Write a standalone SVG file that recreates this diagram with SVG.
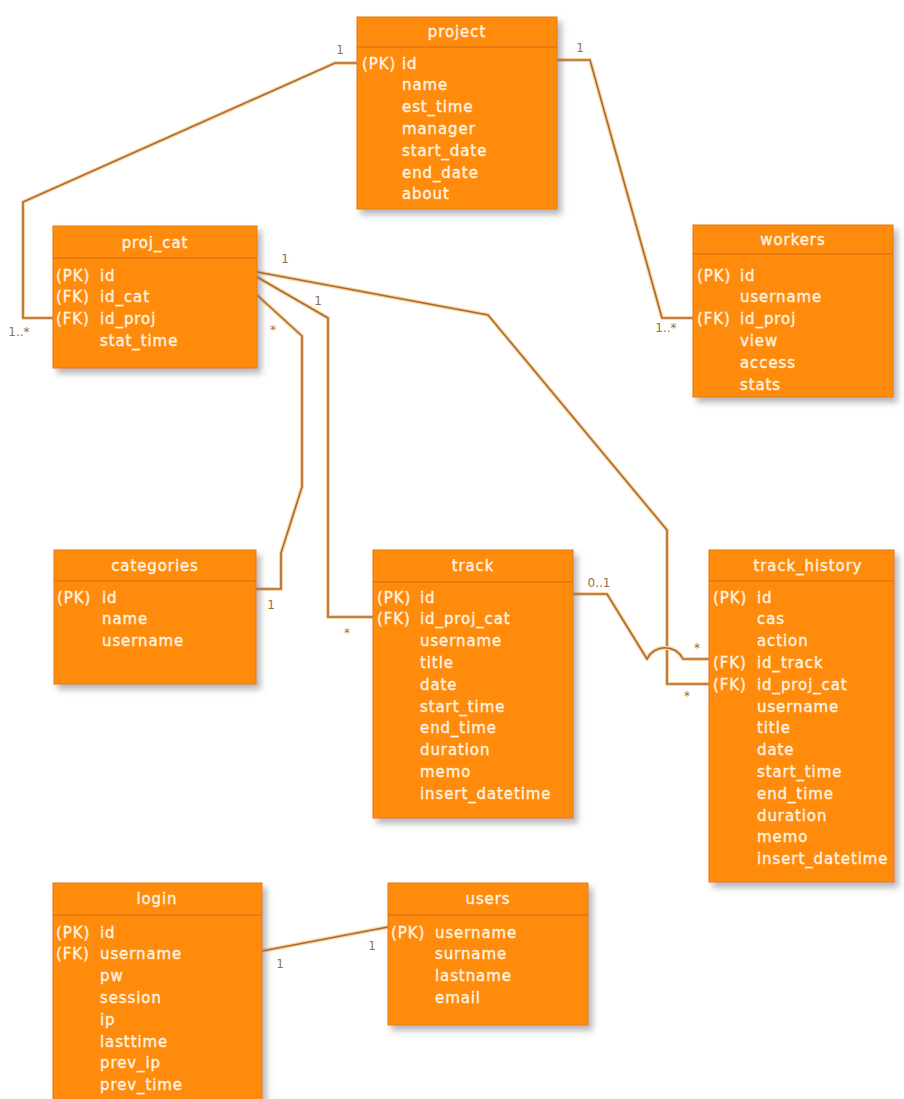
<svg xmlns="http://www.w3.org/2000/svg" width="904" height="1099" viewBox="0 0 904 1099">
<defs>
<filter id="sh" x="-10%" y="-10%" width="125%" height="125%">
<feDropShadow dx="4" dy="5" stdDeviation="3" flood-color="#7a7a7a" flood-opacity="0.55"/>
</filter>
</defs>
<style>
.box{fill:#FF8B10;stroke:#E57A0C;stroke-width:1;filter:url(#sh)}
.sep{stroke:#D26F10;stroke-width:1.2}
.t{font-family:"DejaVu Sans",Verdana,sans-serif;font-size:15px;letter-spacing:0.9px;fill:#FFF3E2;stroke:#FFF3E2;stroke-width:0.35}
.ttl{text-anchor:middle}
.halo{fill:none;stroke:#FAD3A0;stroke-width:4;stroke-linejoin:round}
.ln{fill:none;stroke:#A86A32;stroke-width:1.6;stroke-linejoin:miter}
.lb{font-family:"DejaVu Sans",Verdana,sans-serif;font-size:12px;fill:#957045;text-anchor:middle}
</style>
<rect width="904" height="1099" fill="#ffffff"/>

<g id="connectors">
<g id="c-project-projcat">
<path class="halo" d="M357,63 L335,63 L23,202 L23,318 L53,318"/>
<path class="ln" d="M357,63 L335,63 L23,202 L23,318 L53,318"/>
<text class="lb" x="340" y="54">1</text>
<text class="lb" x="19" y="336">1..*</text>
</g>
<g id="c-project-workers">
<path class="halo" d="M557,60 L590,60 L662,318 L693,318"/>
<path class="ln" d="M557,60 L590,60 L662,318 L693,318"/>
<text class="lb" x="580" y="52">1</text>
<text class="lb" x="666" y="332">1..*</text>
</g>
<g id="c-projcat-trackhistory">
<path class="halo" d="M257,272 L488,315 L667,530 L667,684 L709,684"/>
<path class="ln" d="M257,272 L488,315 L667,530 L667,684 L709,684"/>
<text class="lb" x="285" y="263">1</text>
<text class="lb" x="687" y="700">*</text>
</g>
<g id="c-projcat-track">
<path class="halo" d="M257,277 L328,318 L328,617 L373,617"/>
<path class="ln" d="M257,277 L328,318 L328,617 L373,617"/>
<text class="lb" x="318" y="305">1</text>
<text class="lb" x="347" y="637">*</text>
</g>
<g id="c-projcat-categories">
<path class="halo" d="M257,295 L302,336 L302,487 L281,553 L281,589 L256,589"/>
<path class="ln" d="M257,295 L302,336 L302,487 L281,553 L281,589 L256,589"/>
<text class="lb" x="273" y="334">*</text>
<text class="lb" x="271" y="609">1</text>
</g>
<g id="c-track-trackhistory">
<path class="halo" d="M573,594 L607,594 L647,659 A20,20 0 0 1 683,659 L709,659"/>
<path class="ln" d="M573,594 L607,594 L647,659 A20,20 0 0 1 683,659 L709,659"/>
<text class="lb" x="599" y="587">0..1</text>
<text class="lb" x="697" y="652">*</text>
</g>
<g id="c-login-users">
<path class="halo" d="M262,951 L388,927"/>
<path class="ln" d="M262,951 L388,927"/>
<text class="lb" x="280" y="968">1</text>
<text class="lb" x="372" y="950">1</text>
</g>
</g>

<g id="project">
<rect class="box" x="357" y="17" width="200" height="192"/>
<line class="sep" x1="357" y1="47" x2="557" y2="47"/>
<text class="t ttl" x="457" y="37">project</text>
<text class="t" x="362" y="68.5">(PK)</text><text class="t" x="402" y="68.5">id</text>
<text class="t" x="402" y="90.3">name</text>
<text class="t" x="402" y="112.1">est_time</text>
<text class="t" x="402" y="133.9">manager</text>
<text class="t" x="402" y="155.7">start_date</text>
<text class="t" x="402" y="177.5">end_date</text>
<text class="t" x="402" y="199.3">about</text>
</g>

<g id="proj_cat">
<rect class="box" x="53" y="226" width="204" height="142"/>
<line class="sep" x1="53" y1="258" x2="257" y2="258"/>
<text class="t ttl" x="155" y="248">proj_cat</text>
<text class="t" x="56" y="280.5">(PK)</text><text class="t" x="100" y="280.5">id</text>
<text class="t" x="56" y="302.3">(FK)</text><text class="t" x="100" y="302.3">id_cat</text>
<text class="t" x="56" y="324.1">(FK)</text><text class="t" x="100" y="324.1">id_proj</text>
<text class="t" x="100" y="345.9">stat_time</text>
</g>

<g id="workers">
<rect class="box" x="693" y="225" width="200" height="172"/>
<line class="sep" x1="693" y1="254" x2="893" y2="254"/>
<text class="t ttl" x="793" y="245">workers</text>
<text class="t" x="697" y="280.5">(PK)</text><text class="t" x="740" y="280.5">id</text>
<text class="t" x="740" y="302.3">username</text>
<text class="t" x="697" y="324.1">(FK)</text><text class="t" x="740" y="324.1">id_proj</text>
<text class="t" x="740" y="345.9">view</text>
<text class="t" x="740" y="367.7">access</text>
<text class="t" x="740" y="389.5">stats</text>
</g>

<g id="categories">
<rect class="box" x="54" y="550" width="202" height="134"/>
<line class="sep" x1="54" y1="581" x2="256" y2="581"/>
<text class="t ttl" x="155" y="571">categories</text>
<text class="t" x="57" y="602.5">(PK)</text><text class="t" x="102" y="602.5">id</text>
<text class="t" x="102" y="624.3">name</text>
<text class="t" x="102" y="646.1">username</text>
</g>

<g id="track">
<rect class="box" x="373" y="550" width="200" height="268"/>
<line class="sep" x1="373" y1="582" x2="573" y2="582"/>
<text class="t ttl" x="473" y="571">track</text>
<text class="t" x="377" y="602.5">(PK)</text><text class="t" x="420" y="602.5">id</text>
<text class="t" x="377" y="624.3">(FK)</text><text class="t" x="420" y="624.3">id_proj_cat</text>
<text class="t" x="420" y="646.1">username</text>
<text class="t" x="420" y="667.9">title</text>
<text class="t" x="420" y="689.7">date</text>
<text class="t" x="420" y="711.5">start_time</text>
<text class="t" x="420" y="733.3">end_time</text>
<text class="t" x="420" y="755.1">duration</text>
<text class="t" x="420" y="776.9">memo</text>
<text class="t" x="420" y="798.7">insert_datetime</text>
</g>

<g id="track_history">
<rect class="box" x="709" y="550" width="185" height="332"/>
<line class="sep" x1="709" y1="581" x2="894" y2="581"/>
<text class="t ttl" x="808" y="571">track_history</text>
<text class="t" x="713" y="602.5">(PK)</text><text class="t" x="757" y="602.5">id</text>
<text class="t" x="757" y="624.3">cas</text>
<text class="t" x="757" y="646.1">action</text>
<text class="t" x="713" y="667.9">(FK)</text><text class="t" x="757" y="667.9">id_track</text>
<text class="t" x="713" y="689.7">(FK)</text><text class="t" x="757" y="689.7">id_proj_cat</text>
<text class="t" x="757" y="711.5">username</text>
<text class="t" x="757" y="733.3">title</text>
<text class="t" x="757" y="755.1">date</text>
<text class="t" x="757" y="776.9">start_time</text>
<text class="t" x="757" y="798.7">end_time</text>
<text class="t" x="757" y="820.5">duration</text>
<text class="t" x="757" y="842.3">memo</text>
<text class="t" x="757" y="864.1">insert_datetime</text>
</g>

<g id="login">
<rect class="box" x="53" y="883" width="209" height="230"/>
<line class="sep" x1="53" y1="915" x2="262" y2="915"/>
<text class="t ttl" x="157" y="904">login</text>
<text class="t" x="56" y="937.5">(PK)</text><text class="t" x="100" y="937.5">id</text>
<text class="t" x="56" y="959.3">(FK)</text><text class="t" x="100" y="959.3">username</text>
<text class="t" x="100" y="981.1">pw</text>
<text class="t" x="100" y="1002.9">session</text>
<text class="t" x="100" y="1024.7">ip</text>
<text class="t" x="100" y="1046.5">lasttime</text>
<text class="t" x="100" y="1068.3">prev_ip</text>
<text class="t" x="100" y="1090.1">prev_time</text>
</g>

<g id="users">
<rect class="box" x="388" y="883" width="200" height="142"/>
<line class="sep" x1="388" y1="915" x2="588" y2="915"/>
<text class="t ttl" x="488" y="904">users</text>
<text class="t" x="391" y="937.5">(PK)</text><text class="t" x="435" y="937.5">username</text>
<text class="t" x="435" y="959.3">surname</text>
<text class="t" x="435" y="981.1">lastname</text>
<text class="t" x="435" y="1002.9">email</text>
</g>
</svg>
